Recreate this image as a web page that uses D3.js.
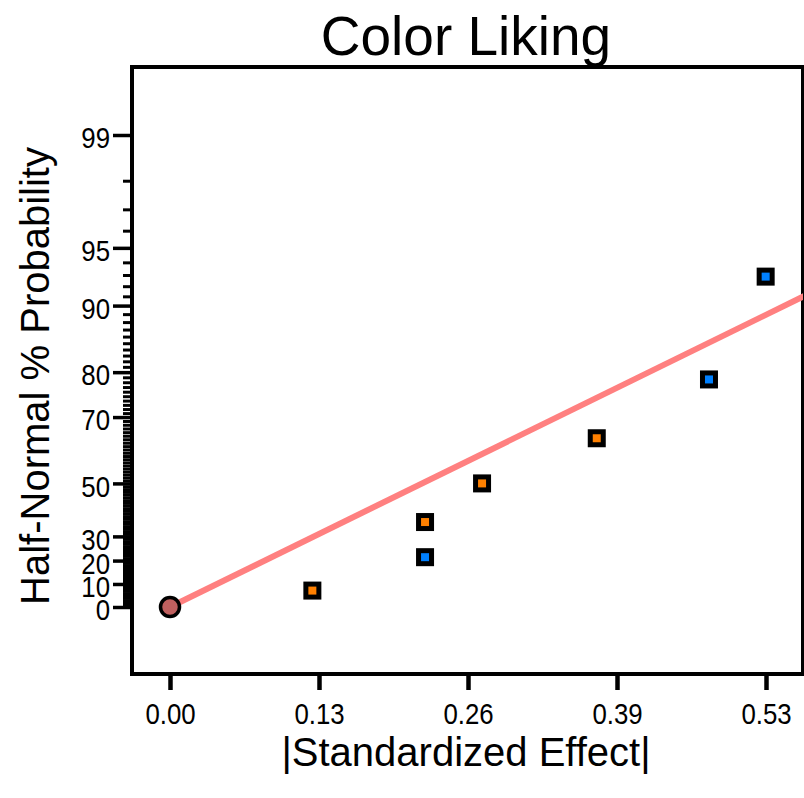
<!DOCTYPE html>
<html>
<head>
<meta charset="utf-8">
<script src="https://cdn.jsdelivr.net/npm/d3@7"></script>
<style>
  body { margin: 0; background: #fff; }
  svg { display: block; font-family: "Liberation Sans", Arial, sans-serif; }
</style>
</head>
<body>
<svg width="804" height="798"></svg>
<script>
// half-normal plot data
var effects = [0.1266, 0.2268, 0.2268, 0.2775, 0.3795, 0.4793, 0.5297];
var probs = [7.14, 21.43, 35.71, 50, 64.29, 78.57, 92.86];
var signs = ["pos", "neg", "pos", "pos", "pos", "neg", "neg"];
var origin = {x: 0, p: 0};
var fitX = [0, 0.6];
var fitP = [0, 92.9];
var xTicks = [0, 0.1325, 0.265, 0.3975, 0.53];
var xTickLabels = ["0.00", "0.13", "0.26", "0.39", "0.53"];
var yTicks = [0, 10, 20, 30, 50, 70, 80, 90, 95, 99];

var svg = d3.select("svg");
var frame = {left: 132, right: 803, top: 67, bottom: 674};

// inverse normal cdf (Acklam)
function probit(p) {
  var a = [-39.6968302866538, 220.946098424521, -275.928510446969, 138.357751867269, -30.6647980661472, 2.50662827745924];
  var b = [-54.4760987982241, 161.585836858041, -155.698979859887, 66.8013118877197, -13.2806815528857];
  var c = [-0.00778489400243029, -0.322396458041136, -2.40075827716184, -2.54973253934373, 4.37466414146497, 2.93816398269878];
  var d = [0.00778469570904146, 0.32246712907004, 2.445134137143, 3.75440866190742];
  var q, r;
  if (p < 0.02425) {
    q = Math.sqrt(-2 * Math.log(p));
    return (((((c[0]*q+c[1])*q+c[2])*q+c[3])*q+c[4])*q+c[5]) / ((((d[0]*q+d[1])*q+d[2])*q+d[3])*q+1);
  } else if (p <= 1 - 0.02425) {
    q = p - 0.5; r = q * q;
    return (((((a[0]*r+a[1])*r+a[2])*r+a[3])*r+a[4])*r+a[5])*q / (((((b[0]*r+b[1])*r+b[2])*r+b[3])*r+b[4])*r+1);
  }
  q = Math.sqrt(-2 * Math.log(1 - p));
  return -(((((c[0]*q+c[1])*q+c[2])*q+c[3])*q+c[4])*q+c[5]) / ((((d[0]*q+d[1])*q+d[2])*q+d[3])*q+1);
}
function hn(p) { return probit(0.5 + p / 200); }

// tick labels in the reference are a bit narrow
function narrow(sel, size) {
  sel.attr("font-size", size).attr("fill", "#000")
    .attr("font-family", "Liberation Sans, Arial, sans-serif")
    .each(function() {
      var w = this.getComputedTextLength();
      d3.select(this).attr("textLength", w * 0.86).attr("lengthAdjust", "spacingAndGlyphs");
    });
}

var x = d3.scaleLinear().domain([0, 0.53]).range([170, 766]);
var y = d3.scaleLinear().domain([hn(0), hn(99)]).range([607, 135]);

svg.append("clipPath").attr("id", "clip")
  .append("rect")
  .attr("x", frame.left).attr("y", frame.top)
  .attr("width", frame.right - frame.left).attr("height", frame.bottom - frame.top);

// minor ticks every 1%
var minor = d3.range(1, 99).filter(function(v) { return yTicks.indexOf(v) < 0; });
var yMinor = svg.append("g").attr("transform", "translate(130,0)")
  .call(d3.axisLeft(y).tickValues(minor.map(hn)).tickSize(7).tickFormat(""));
yMinor.select(".domain").remove();
yMinor.selectAll("line").attr("stroke", "#000").attr("stroke-width", 3);

var yAxis = svg.append("g").attr("transform", "translate(130,0)")
  .call(d3.axisLeft(y).tickValues(yTicks.map(hn)).tickSize(17).tickPadding(3)
    .tickFormat(function(d, i) { return yTicks[i]; }));
yAxis.select(".domain").remove();
yAxis.selectAll("line").attr("stroke", "#000").attr("stroke-width", 3.5);
yAxis.selectAll("text").attr("dy", "0.42em").call(narrow, 30);

var xAxis = svg.append("g").attr("transform", "translate(0,676)")
  .call(d3.axisBottom(x).tickValues(xTicks).tickSize(14).tickPadding(13)
    .tickFormat(function(d, i) { return xTickLabels[i]; }));
xAxis.select(".domain").remove();
xAxis.selectAll("line").attr("stroke", "#000").attr("stroke-width", 4.5);
xAxis.selectAll("text").call(narrow, 30);

// frame
svg.append("rect")
  .attr("x", frame.left).attr("y", frame.top)
  .attr("width", frame.right - frame.left).attr("height", frame.bottom - frame.top)
  .attr("fill", "none").attr("stroke", "#000").attr("stroke-width", 4);

// fit line
var fit = fitX.map(function(v, i) { return {x: v, p: fitP[i]}; });
svg.append("path")
  .datum(fit)
  .attr("clip-path", "url(#clip)")
  .attr("fill", "none")
  .attr("stroke", "#ff8080")
  .attr("stroke-width", 6)
  .attr("d", d3.line().x(function(d) { return x(d.x); }).y(function(d) { return y(hn(d.p)); }));

svg.append("circle")
  .attr("cx", x(origin.x)).attr("cy", y(hn(origin.p)))
  .attr("r", 9.5)
  .attr("fill", "#c0605f").attr("stroke", "#000").attr("stroke-width", 3.5);

var pts = effects.map(function(e, i) { return {x: e, p: probs[i], s: signs[i]}; });
svg.selectAll(".pt").data(pts).enter().append("rect")
  .attr("class", "pt")
  .attr("x", function(d) { return x(d.x) - 6.5; })
  .attr("y", function(d) { return y(hn(d.p)) - 6.5; })
  .attr("width", 13).attr("height", 13)
  .attr("fill", function(d) { return d.s == "pos" ? "#ff8000" : "#0080ff"; })
  .attr("stroke", "#000").attr("stroke-width", 5);

svg.append("text")
  .attr("x", 466).attr("y", 55)
  .attr("text-anchor", "middle").attr("font-size", 55)
  .text("Color Liking");

svg.append("text")
  .attr("x", 466).attr("y", 766)
  .attr("text-anchor", "middle").attr("font-size", 40)
  .text("|Standardized Effect|");

svg.append("text")
  .attr("transform", "translate(49,376) rotate(-90)")
  .attr("text-anchor", "middle").attr("font-size", 40)
  .text("Half-Normal % Probability");
</script>
</body>
</html>
